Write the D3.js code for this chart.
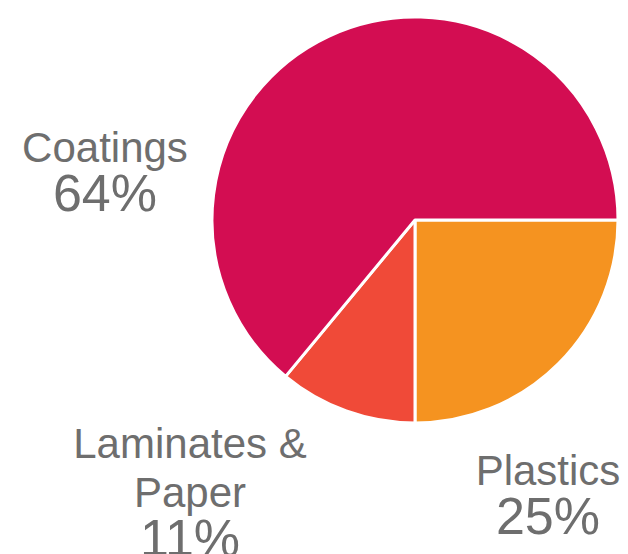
<!DOCTYPE html>
<html>
<head>
<meta charset="utf-8">
<script src="https://cdn.jsdelivr.net/npm/d3@7"></script>
<style>
  html, body { margin: 0; padding: 0; background: #fff; }
  svg text { font-family: "Liberation Sans", Arial, sans-serif; fill: #6e6e6e; }
</style>
</head>
<body>
<svg id="chart"></svg>
<script>
const categories = ["Plastics", "Laminates & Paper", "Coatings"];
const shares = [25, 11, 64];
const colors = ["#F59320", "#F04A38", "#D30D52"];

// label lines per slice (name may wrap)
const labelLines = [["Plastics"], ["Laminates &", "Paper"], ["Coatings"]];

const svgWidth = 628, svgHeight = 554;
const cx = 415, cy = 220, radius = 203;

const svg = d3.select("#chart")
    .attr("width", svgWidth)
    .attr("height", svgHeight);

const data = categories.map((c, i) => ({ name: c, value: shares[i], color: colors[i], lines: labelLines[i] }));

// starts at 3 o'clock, runs clockwise
const pie = d3.pie()
    .sort(null)
    .value(d => d.value)
    .startAngle(Math.PI / 2)
    .endAngle(Math.PI / 2 + 2 * Math.PI);

const arc = d3.arc().innerRadius(0).outerRadius(radius);

const g = svg.append("g").attr("transform", `translate(${cx},${cy})`);

g.selectAll("path")
    .data(pie(data))
    .enter().append("path")
    .attr("d", arc)
    .attr("fill", d => d.data.color)
    .attr("stroke", "white")
    .attr("stroke-width", 3)
    .attr("stroke-linejoin", "round");

// label anchors (x center, baseline of first line)
const labelPos = {
    "Plastics": { x: 548, y: 485 },
    "Laminates & Paper": { x: 190, y: 458 },
    "Coatings": { x: 105, y: 162 }
};

const labels = svg.selectAll(".label")
    .data(data)
    .enter().append("text")
    .attr("class", "label")
    .attr("text-anchor", "middle")
    .attr("x", d => labelPos[d.name].x)
    .attr("y", d => labelPos[d.name].y);

labels.each(function (d) {
    const t = d3.select(this);
    d.lines.forEach((line, i) => {
        t.append("tspan")
            .attr("x", labelPos[d.name].x)
            .attr("dy", i === 0 ? 0 : 49)
            .style("font-size", "42px")
            .text(line);
    });
    t.append("tspan")
        .attr("x", labelPos[d.name].x)
        .attr("dy", 49)
        .style("font-size", "52px")
        .text(d.value + "%");
});
</script>
</body>
</html>
